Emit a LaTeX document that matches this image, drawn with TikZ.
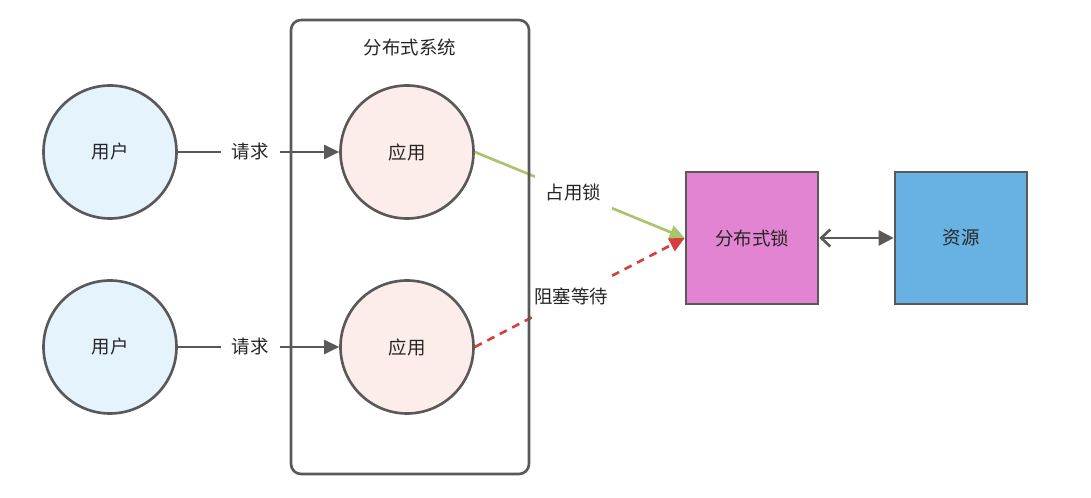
\documentclass[tikz,border=0pt]{standalone}
\usepackage{fontspec}
\setmainfont{Noto Sans CJK SC}
\usepackage{tikz}
\usetikzlibrary{arrows.meta, positioning, shapes}

\definecolor{linegray}{HTML}{595959}
\definecolor{userblue}{HTML}{E4F3FC}
\definecolor{apppink}{HTML}{FDEDEA}
\definecolor{lockpink}{HTML}{E384D2}
\definecolor{resblue}{HTML}{67B1E3}
\definecolor{lockgreen}{HTML}{A9C56C}
\definecolor{waitred}{HTML}{D63F3F}
\definecolor{textgray}{HTML}{262626}

\tikzset{
    every node/.style={text=textgray, font=\fontsize{10.5}{12}\selectfont},
    roundnode/.style={circle, draw=linegray, line width=1.5pt, minimum size=2.66cm},
    boxnode/.style={rectangle, draw=linegray, line width=1.5pt, minimum size=2.64cm},
    lbl/.style={fill=white, inner sep=0.22cm}
}

\begin{document}
\begin{tikzpicture}[>={Triangle[length=0.3cm,width=0.28cm]}]
    \useasboundingbox (0,0) rectangle (21.82,9.96);

    % users and applications
    \node[roundnode, fill=userblue] (user1) at (2.2,6.92) {用户};
    \node[roundnode, fill=userblue] (user2) at (2.2,3.02) {用户};
    \node[roundnode, fill=apppink] (app1) at (8.14,6.92) {应用};
    \node[roundnode, fill=apppink] (app2) at (8.14,3.02) {应用};

    % lock and resource
    \node[boxnode, fill=lockpink] (lock) at (15.04,5.2) {分布式锁};
    \node[boxnode, fill=resblue] (res) at (19.22,5.2) {资源};

    % requests
    \draw[->, linegray, line width=1.5pt] (user1) -- node[lbl, pos=0.45] {请求} (app1);
    \draw[->, linegray, line width=1.5pt] (user2) -- node[lbl, pos=0.45] {请求} (app2);

    % lock acquire / wait
    \draw[->, lockgreen, line width=1.5pt] (app1.east) -- node[lbl, pos=0.47] {占用锁} (lock.west);
    \draw[->, waitred, line width=1.5pt, dash pattern=on 4.5pt off 3.5pt] (app2.east) -- node[lbl, pos=0.46] {阻塞等待} (lock.west);

    % lock <-> resource
    \draw[{Straight Barb[length=0.18cm,width=0.34cm]}-{Triangle[length=0.3cm,width=0.3cm]}, linegray, line width=1.5pt] (lock) -- (res);

    % distributed system frame
    \draw[linegray, line width=1.5pt, rounded corners=0.2cm] (5.82,0.48) rectangle (10.58,9.56);
    \node (systitle) at (8.2,9.02) {分布式系统};
\end{tikzpicture}
\end{document}
